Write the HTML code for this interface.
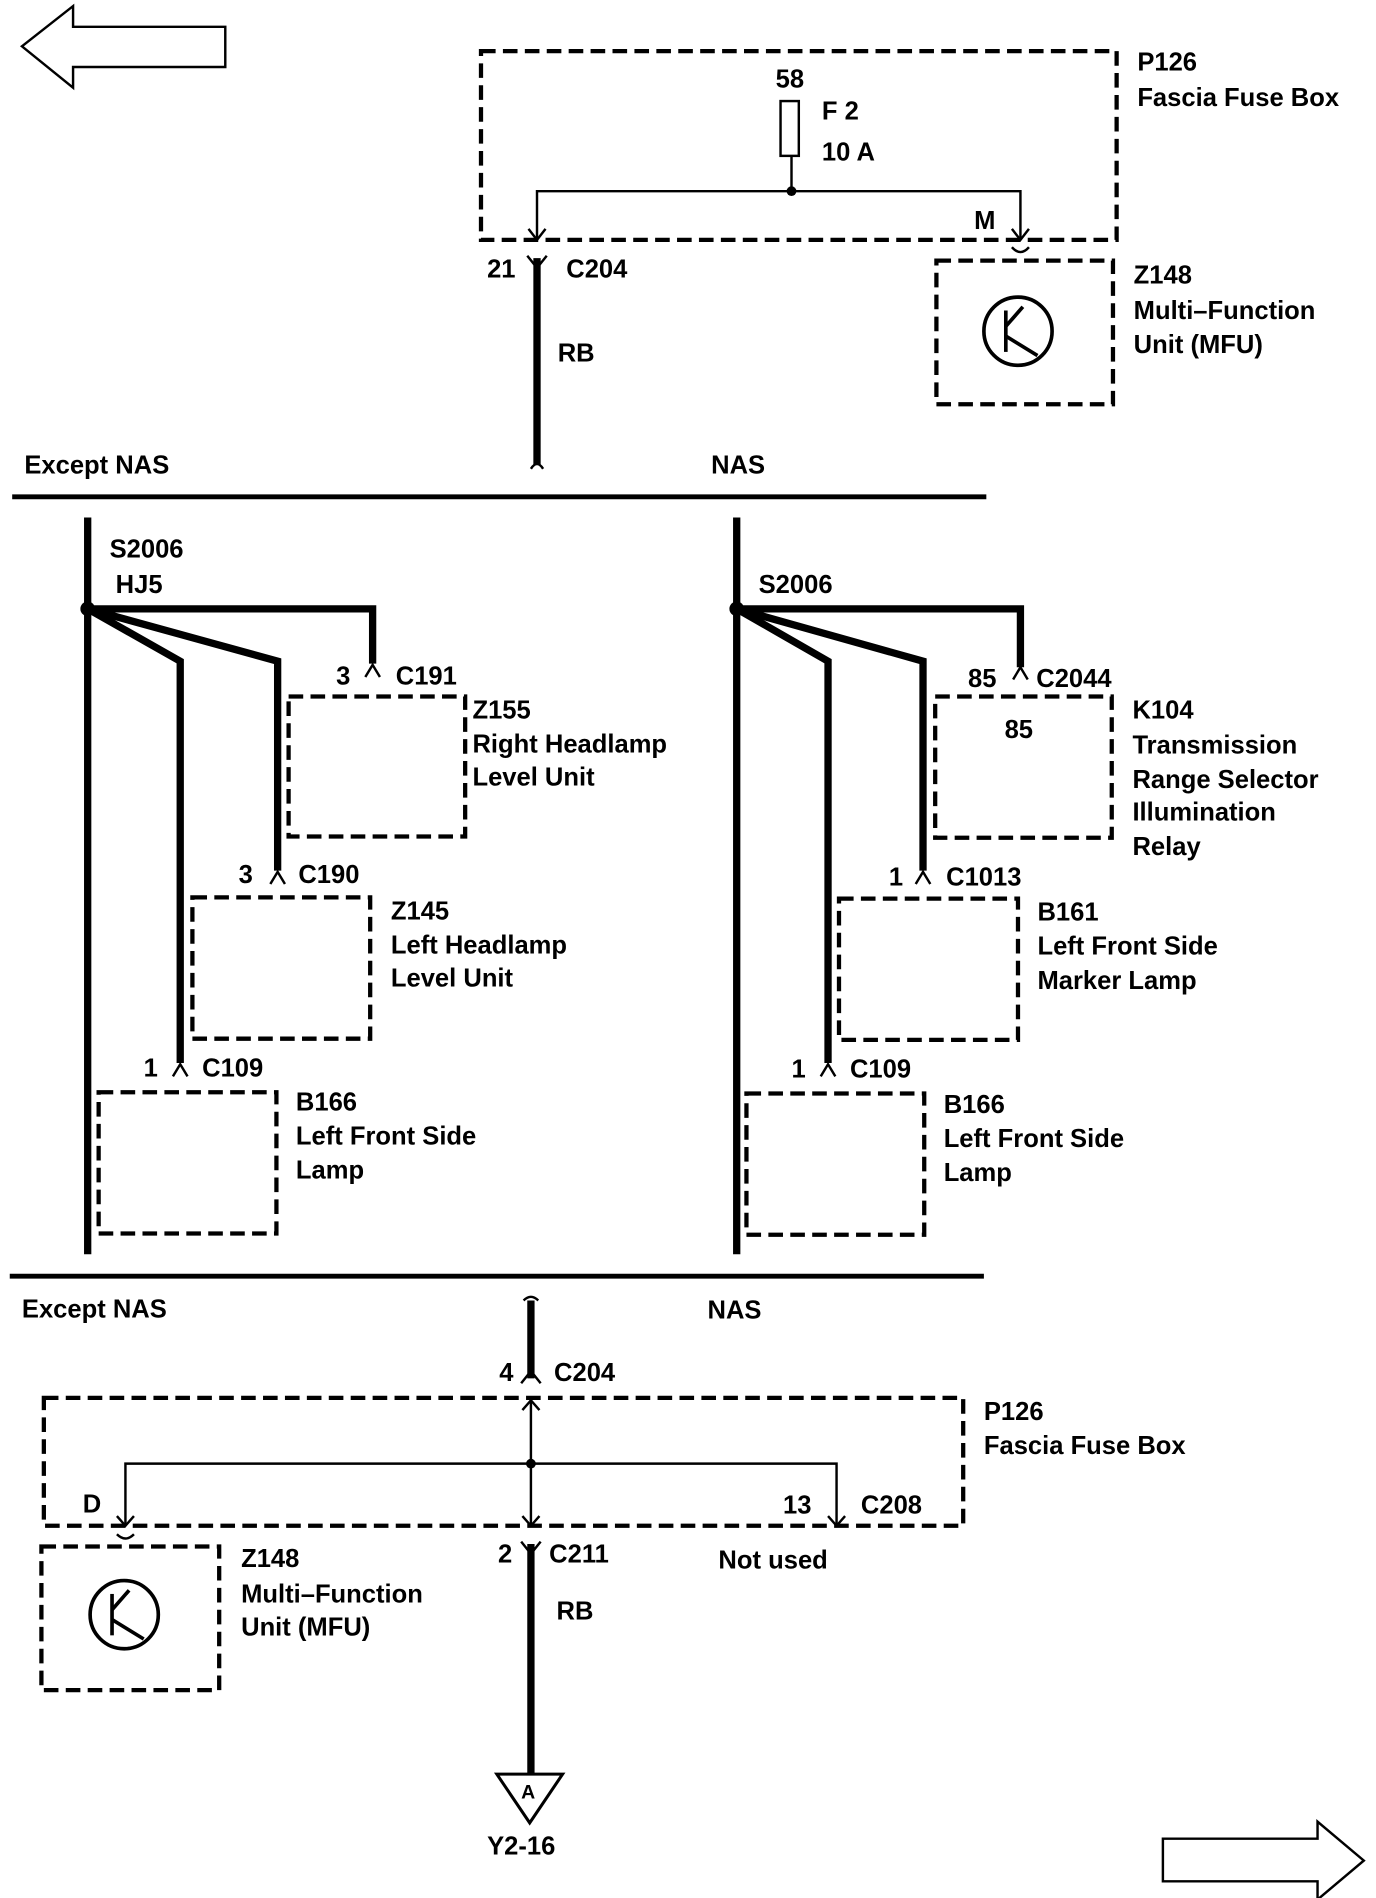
<!DOCTYPE html>
<html><head><meta charset="utf-8"><style>
html,body{margin:0;padding:0;background:#fff}
svg{display:block}
text{font-family:"Liberation Sans",sans-serif;font-weight:bold;font-size:21px;fill:#000}
.d{fill:none;stroke:#000;stroke-width:3.5;stroke-dasharray:12 6}
.w{fill:none;stroke:#000;stroke-width:6}
.t{fill:none;stroke:#000;stroke-width:2}
</style></head><body>
<svg width="1376" height="1898" viewBox="0 0 1130 1558.7" xmlns="http://www.w3.org/2000/svg">
<!-- arrows -->
<polygon points="18,38 60,5 60,22 185,22 185,55 60,55 60,72" fill="none" stroke="#000" stroke-width="2"/>
<polygon points="955,1510 1082,1510 1082,1496 1120,1528 1082,1560 1082,1545 955,1545" fill="none" stroke="#000" stroke-width="2"/>

<!-- top fuse box -->
<rect class="d" x="395" y="42" width="522" height="155"/>
<rect x="641" y="83" width="15" height="45" fill="none" stroke="#000" stroke-width="2"/>
<text x="637" y="72">58</text><text x="675" y="98">F 2</text><text x="675" y="132">10 A</text>
<line class="t" x1="650" y1="128" x2="650" y2="157"/>
<polyline class="t" points="441,197 441,157 838,157 838,197"/>
<circle cx="650" cy="157" r="4"/>
<polyline class="t" points="434,188 441,197 448,188"/>
<polyline class="t" points="831,188 838,197 845,188"/>
<text x="800" y="188">M</text>
<text x="934" y="58">P126</text><text x="934" y="87">Fascia Fuse Box</text>
<path d="M433,210 L441,220 L449,210" class="t" stroke-width="3"/>
<line class="w" x1="441" y1="212" x2="441" y2="382"/>
<path d="M436,385 q5,-8 10,0" class="t"/>
<text x="400" y="228">21</text><text x="465" y="228">C204</text><text x="458" y="297">RB</text>
<path d="M831,203 q7,8 14,0" class="t" stroke-width="3"/>
<rect class="d" x="769" y="214" width="145" height="118"/>
<circle cx="836" cy="272" r="28" fill="none" stroke="#000" stroke-width="3"/>
<line x1="826" y1="255" x2="826" y2="289" stroke="#000" stroke-width="3"/>
<line x1="826" y1="268" x2="840" y2="252" stroke="#000" stroke-width="3"/>
<line x1="826" y1="276" x2="852" y2="292" stroke="#000" stroke-width="3"/>
<text x="931" y="233">Z148</text><text x="931" y="262">Multi–Function</text><text x="931" y="290">Unit (MFU)</text>

<text x="20" y="389">Except NAS</text><text x="584" y="389">NAS</text>
<line x1="10" y1="408" x2="810" y2="408" stroke="#000" stroke-width="4"/>

<!-- left section -->
<line class="w" x1="72" y1="425" x2="72" y2="1030"/>
<text x="90" y="458">S2006</text><text x="95" y="487">HJ5</text>
<circle cx="72" cy="500" r="6"/>
<polyline class="w" points="72,500 306,500 306,545"/>
<polyline class="w" points="72,500 228,543 228,715"/>
<polyline class="w" points="72,500 148,543 148,873"/>
<path d="M300,556 L306,546 L312,556 M222,726 L228,716 L234,726 M142,884 L148,874 L154,884" class="t" stroke-width="3"/>
<text x="276" y="562">3</text><text x="325" y="562">C191</text>
<rect class="d" x="237" y="572" width="145" height="115"/>
<text x="388" y="590">Z155</text><text x="388" y="618">Right Headlamp</text><text x="388" y="645">Level Unit</text>
<text x="196" y="725">3</text><text x="245" y="725">C190</text>
<rect class="d" x="158" y="737" width="146" height="116"/>
<text x="321" y="755">Z145</text><text x="321" y="783">Left Headlamp</text><text x="321" y="810">Level Unit</text>
<text x="118" y="884">1</text><text x="166" y="884">C109</text>
<rect class="d" x="81" y="897" width="146" height="116"/>
<text x="243" y="912">B166</text><text x="243" y="940">Left Front Side</text><text x="243" y="968">Lamp</text>

<!-- right section -->
<line class="w" x1="605" y1="425" x2="605" y2="1030"/>
<text x="623" y="487">S2006</text>
<circle cx="605" cy="500" r="6"/>
<polyline class="w" points="605,500 838,500 838,548"/>
<polyline class="w" points="605,500 758,543 758,715"/>
<polyline class="w" points="605,500 680,543 680,873"/>
<path d="M832,558 L838,548 L844,558 M752,726 L758,716 L764,726 M674,884 L680,874 L686,884" class="t" stroke-width="3"/>
<text x="795" y="564">85</text><text x="851" y="564">C2044</text>
<rect class="d" x="768" y="572" width="145" height="116"/>
<text x="825" y="606">85</text>
<text x="930" y="590">K104</text><text x="930" y="619">Transmission</text><text x="930" y="647">Range Selector</text><text x="930" y="674">Illumination</text><text x="930" y="702">Relay</text>
<text x="730" y="727">1</text><text x="777" y="727">C1013</text>
<rect class="d" x="689" y="738" width="147" height="116"/>
<text x="852" y="756">B161</text><text x="852" y="784">Left Front Side</text><text x="852" y="812">Marker Lamp</text>
<text x="650" y="885">1</text><text x="698" y="885">C109</text>
<rect class="d" x="613" y="898" width="146" height="116"/>
<text x="775" y="914">B166</text><text x="775" y="942">Left Front Side</text><text x="775" y="970">Lamp</text>

<line x1="8" y1="1048" x2="808" y2="1048" stroke="#000" stroke-width="4"/>
<text x="18" y="1082">Except NAS</text><text x="581" y="1083">NAS</text>

<!-- bottom -->
<path d="M430,1068 q6,-6 12,0" class="t"/>
<line class="w" x1="436" y1="1068" x2="436" y2="1132"/>
<path d="M428,1136 L436,1126 L444,1136" class="t" stroke-width="3"/>
<text x="410" y="1134">4</text><text x="455" y="1134">C204</text>
<rect class="d" x="36" y="1148" width="755" height="105"/>
<polyline class="t" points="429,1158 436,1150 443,1158"/>
<line class="t" x1="436" y1="1150" x2="436" y2="1253"/>
<circle cx="436" cy="1202" r="4"/>
<polyline class="t" points="103,1253 103,1202 687,1202 687,1253"/>
<polyline class="t" points="96,1245 103,1253 110,1245"/>
<polyline class="t" points="429,1245 436,1253 443,1245"/>
<polyline class="t" points="680,1245 687,1253 694,1245"/>
<text x="68" y="1242">D</text><text x="643" y="1243">13</text><text x="707" y="1243">C208</text>
<text x="808" y="1166">P126</text><text x="808" y="1194">Fascia Fuse Box</text>
<path d="M96,1260 q7,7 14,0" class="t" stroke-width="3"/>
<path d="M428,1266 L436,1276 L444,1266" class="t" stroke-width="3"/>
<line class="w" x1="436" y1="1268" x2="436" y2="1458"/>
<text x="409" y="1283">2</text><text x="451" y="1283">C211</text><text x="457" y="1330">RB</text>
<text x="590" y="1288">Not used</text>
<polygon points="408,1457 462,1457 435,1497" fill="none" stroke="#000" stroke-width="2.5"/>
<text x="428" y="1477" style="font-size:16px">A</text>
<text x="400" y="1523">Y2-16</text>
<rect class="d" x="34" y="1270" width="146" height="118"/>
<circle cx="102" cy="1326" r="28" fill="none" stroke="#000" stroke-width="3"/>
<line x1="92" y1="1309" x2="92" y2="1343" stroke="#000" stroke-width="3"/>
<line x1="92" y1="1322" x2="106" y2="1306" stroke="#000" stroke-width="3"/>
<line x1="92" y1="1330" x2="118" y2="1346" stroke="#000" stroke-width="3"/>
<text x="198" y="1287">Z148</text><text x="198" y="1316">Multi–Function</text><text x="198" y="1343">Unit (MFU)</text>
</svg>
</body></html>
